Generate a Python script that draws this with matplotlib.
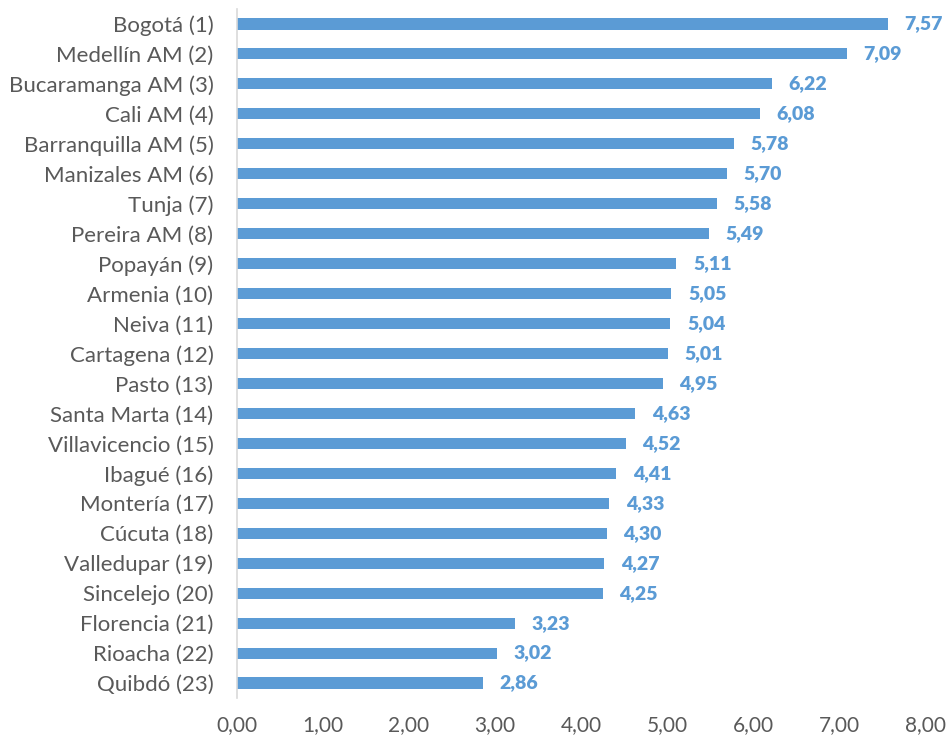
import matplotlib
matplotlib.use("Agg")
import matplotlib.pyplot as plt

# ciudades y valores (orden del grafico, de arriba hacia abajo)
ciudades = ["Bogotá (1)", "Medellín AM (2)", "Bucaramanga AM (3)", "Cali AM (4)",
            "Barranquilla AM (5)", "Manizales AM (6)", "Tunja (7)", "Pereira AM (8)",
            "Popayán (9)", "Armenia (10)", "Neiva (11)", "Cartagena (12)", "Pasto (13)",
            "Santa Marta (14)", "Villavicencio (15)", "Ibagué (16)", "Montería (17)",
            "Cúcuta (18)", "Valledupar (19)", "Sincelejo (20)", "Florencia (21)",
            "Rioacha (22)", "Quibdó (23)"]
valores = [7.57, 7.09, 6.22, 6.08, 5.78, 5.70, 5.58, 5.49, 5.11, 5.05, 5.04, 5.01,
           4.95, 4.63, 4.52, 4.41, 4.33, 4.30, 4.27, 4.25, 3.23, 3.02, 2.86]
xticks = [0, 1, 2, 3, 4, 5, 6, 7, 8]

azul = "#5B9BD5"
gris = "#595959"
fuente = ["Lato", "DejaVu Sans"]

fig = plt.figure(figsize=(9.48, 7.37), dpi=100)
ax = fig.add_axes([237 / 948, 1 - 698 / 737, (925 - 237) / 948, 689 / 737])

pos = list(range(len(ciudades)))
ax.barh(pos, valores, height=0.37, color=azul)
ax.set_ylim(len(ciudades) - 0.5, -0.5)
ax.set_xlim(0, 8)

for p, v in zip(pos, valores):
    ax.annotate(("%.2f" % v).replace(".", ","), (v, p), xytext=(12, 0),
                textcoords="offset points", ha="left", va="center",
                color=azul, fontsize=14, fontweight="heavy", family=fuente)

ax.set_yticks(pos)
ax.set_yticklabels(ciudades, color=gris, fontsize=16, family=fuente)
ax.set_xticks(xticks)
ax.set_xticklabels([("%.2f" % t).replace(".", ",") for t in xticks],
                   color=gris, fontsize=15, family=fuente)
ax.tick_params(axis="both", length=0)
ax.tick_params(axis="y", pad=17)
ax.tick_params(axis="x", pad=12)

for s in ["top", "right", "bottom"]:
    ax.spines[s].set_visible(False)
ax.spines["left"].set_color("#D9D9D9")
ax.spines["left"].set_linewidth(1.2)

fig.savefig("out.png", dpi=100)
